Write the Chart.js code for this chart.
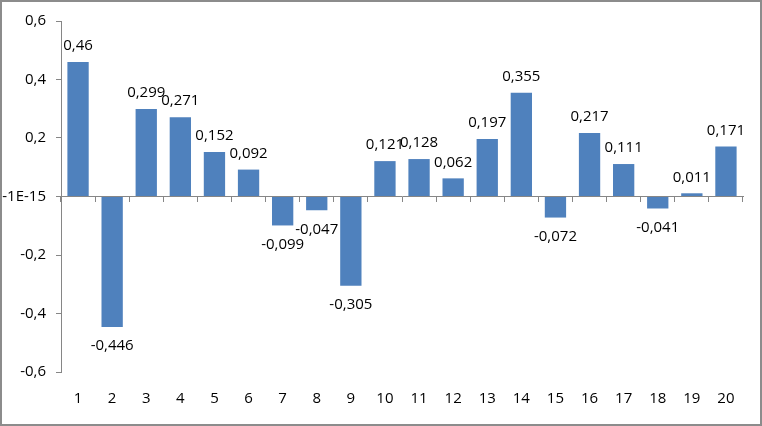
<!DOCTYPE html>
<html lang="en">

<head>
    <meta charset="UTF-8">
    <title>Bar chart</title>
    <script src="https://cdn.jsdelivr.net/npm/chart.js@4.4.0/dist/chart.umd.min.js"></script>
    <style>
    body {
        margin: 0;
        background: #fff;
    }

    #wrap {
        width: 762px;
        height: 426px;
        box-sizing: border-box;
        border: 2px solid #8c8c8c;
        position: relative;
    }
    </style>
</head>

<body>
    <div id="wrap">
        <canvas id="myChart"></canvas>
    </div>
    <script>
    const categories = ['1', '2', '3', '4', '5', '6', '7', '8', '9', '10', '11', '12', '13', '14', '15', '16', '17', '18', '19', '20'];
    const values = [0.46, -0.446, 0.299, 0.271, 0.152, 0.092, -0.099, -0.047, -0.305, 0.121, 0.128, 0.062, 0.197, 0.355, -0.072, 0.217, 0.111, -0.041, 0.011, 0.171];
    const yTicks = [-0.6, -0.4, -0.2, 0, 0.2, 0.4, 0.6];

    const axisGrey = '#868686';
    const fontFamily = '"Open Sans", "Liberation Sans", sans-serif';

    const commaNum = (v) => String(v).replace('.', ',');

    // value labels above / below each bar
    const barLabels = {
        id: 'barLabels',
        afterDatasetsDraw(chart) {
            const ctx = chart.ctx;
            const meta = chart.getDatasetMeta(0);
            ctx.save();
            ctx.font = '15px ' + fontFamily;
            ctx.fillStyle = '#000';
            ctx.textAlign = 'center';
            ctx.textBaseline = 'middle';
            meta.data.forEach((bar, i) => {
                const v = values[i];
                const y = v >= 0 ? bar.y - 16 : bar.y + 19;
                ctx.fillText(commaNum(v), bar.x, y);
            });
            ctx.restore();
        }
    };

    new Chart(document.getElementById('myChart'), {
        type: 'bar',
        data: {
            labels: categories,
            datasets: [{
                data: values,
                backgroundColor: '#4f81bd',
                barPercentage: 0.625,
                categoryPercentage: 1
            }]
        },
        options: {
            responsive: true,
            maintainAspectRatio: false,
            animation: false,
            layout: {
                padding: { top: 17, right: 17, bottom: 0, left: 0 }
            },
            plugins: {
                legend: { display: false },
                tooltip: { enabled: false }
            },
            scales: {
                x: {
                    position: 'bottom',
                    grid: { display: false, drawTicks: false },
                    border: { display: false },
                    ticks: {
                        padding: 18,
                        color: '#000',
                        maxRotation: 0,
                        font: { family: fontFamily, size: 15 }
                    },
                    afterFit: (scale) => { scale.height = 52; }
                },
                // axis line through zero with tick marks between categories
                x2: {
                    type: 'category',
                    position: { y: 0 },
                    offset: true,
                    grid: {
                        offset: true,
                        drawOnChartArea: false,
                        color: axisGrey,
                        tickLength: 5
                    },
                    border: { color: axisGrey },
                    ticks: { display: false }
                },
                y: {
                    min: -0.6,
                    max: 0.6,
                    afterBuildTicks: (scale) => {
                        scale.ticks = yTicks.map(v => ({ value: v }));
                    },
                    grid: {
                        drawOnChartArea: false,
                        color: axisGrey,
                        tickLength: 5
                    },
                    border: { color: axisGrey },
                    ticks: {
                        padding: 10,
                        color: '#000',
                        font: { family: fontFamily, size: 15 },
                        callback: (v) => Math.abs(v) < 1e-9 ? '-1E-15' : v.toFixed(1).replace('.', ',')
                    },
                    afterFit: (scale) => { scale.width = 59; }
                }
            }
        },
        plugins: [barLabels]
    });
    </script>
</body>

</html>
